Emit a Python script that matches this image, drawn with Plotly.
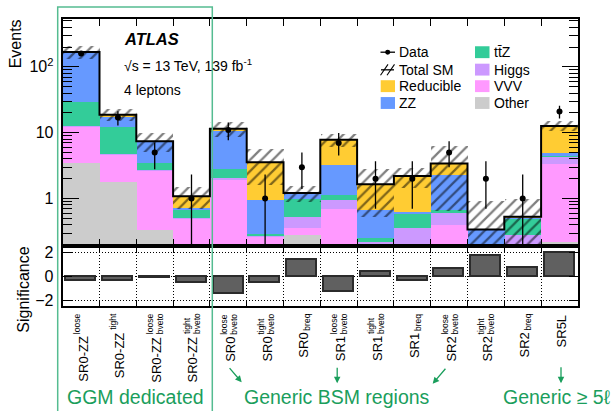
import plotly.graph_objects as go

# ---------------- data ----------------
regions = ["SR0-ZZ", "SR0-ZZ", "SR0-ZZ", "SR0-ZZ", "SR0", "SR0", "SR0",
           "SR1", "SR1", "SR1", "SR2", "SR2", "SR2", "SR5L"]
region_sup = ["loose", "tight", "loose", "tight", "loose", "tight", "",
              "loose", "tight", "", "loose", "tight", "", ""]
region_sub = ["", "", "bveto", "bveto", "bveto", "bveto", "breq",
              "bveto", "bveto", "breq", "bveto", "bveto", "breq", ""]

other = [3.5, 1.8, 0.33, 0.0, 0.0, 0.0, 0.276, 0.0, 0.0, 0.0, 0.0, 0.0, 0.0, 0.22]
vvv = [9.0, 2.87, 2.29, 0.50, 1.95, 0.26, 0.081, 0.70, 0.20, 0.15, 0.40, 0.0, 0.10, 3.08]
higgs = [0.2, 0.08, 0.06, 0.01, 0.10, 0.01, 0.163, 0.25, 0.022, 0.20, 0.205, 0.03, 0.176, 1.1]
ttz = [16.1, 7.55, 0.82, 0.17, 0.73, 0.02, 0.45, 0.18, 0.028, 0.235, 0.055, 0.01, 0.214, 0.05]
zz = [138.2, 5.3, 3.9, 0.03, 7.82, 0.66, 0.23, 2.06, 0.41, 0.035, 1.6, 0.30, 0.03, 0.5]
reducible = [0.5, 1.2, 0.05, 0.37, 0.9, 2.62, 0.01, 4.66, 0.99, 1.58, 1.16, 0.0, 0.01, 7.75]
sm_unc = [38, 3.9, 2.4, 0.39, 2.8, 1.98, 0.32, 1.8, 1.12, 0.74, 2.78, 0.58, 0.45, 2.1]

data = [160, 17, 5, 1, 11, 1, 3, 7, 2, 2, 5, 2, 1, 21]
data_err_up = [13, 4.1, 2.1, 1.33, 3.3, 1.33, 2.0, 2.9, 1.7, 1.7, 2.4, 1.7, 1.33, 4.6]
data_err_dn = [13, 4.1, 2.2, 0.999, 3.3, 0.999, 1.6, 2.5, 1.3, 1.3, 2.0, 1.3, 0.999, 4.6]

significance = [-0.36, -0.36, -0.08, -0.5, -1.47, -0.5, 1.47, -1.3, 0.42, -0.33, 0.64, 1.8, 0.75, 2.0]

main_ticks = [1, 10, 100]
main_ticktext = ["1", "10", "10<sup>2</sup>"]
sig_ticks = [-2, 0, 2]
sig_ticktext = ["\u22122", "0", "2"]

# ---------------- styling ----------------
W, H = 614, 411
FONT = "Liberation Sans, Arial, sans-serif"
GREEN_TXT = "#1a9e5c"
GREEN_BOX = "rgb(85,188,145)"
colors = {
    "Other": "#cccccc",
    "VVV": "#ff99ff",
    "Higgs": "#cc99ff",
    "ttZ": "#33cc99",
    "ZZ": "#6699ff",
    "Reducible": "#ffcc33",
}


def px_x(x):
    return x / W


def px_y(y):
    return 1 - y / H


n = len(regions)
xc = list(range(n))
edges = [i - 0.5 for i in range(n + 1)]
total = [sum(v) for v in zip(other, vvv, higgs, ttz, zz, reducible)]

fig = go.Figure()

# stacked backgrounds (bottom to top)
for name, vals in [("Other", other), ("VVV", vvv), ("Higgs", higgs),
                   ("ttZ", ttz), ("ZZ", zz), ("Reducible", reducible)]:
    fig.add_trace(go.Bar(x=xc, y=vals, name=name, marker_color=colors[name],
                         marker_line_width=0, showlegend=False,
                         xaxis="x", yaxis="y"))

# uncertainty band on the total SM prediction
band_base = [max(t - e, 1e-3) for t, e in zip(total, sm_unc)]
band_len = [t + e - b for t, e, b in zip(total, sm_unc, band_base)]
fig.add_trace(go.Bar(
    x=xc, y=band_len, base=band_base, width=1.0, showlegend=False,
    marker=dict(color="rgba(0,0,0,0)", line_width=0,
                pattern=dict(shape="/", fgcolor="black", bgcolor="rgba(0,0,0,0)",
                             size=8, solidity=0.28)),
    xaxis="x", yaxis="y"))

# total SM step line
fig.add_trace(go.Scatter(x=edges, y=total + [total[-1]], mode="lines",
                         line=dict(color="black", width=2, shape="hv"),
                         showlegend=False, xaxis="x", yaxis="y"))

# data points
fig.add_trace(go.Scatter(
    x=xc, y=data, mode="markers", showlegend=False,
    marker=dict(color="black", size=6),
    error_y=dict(type="data", symmetric=False, array=data_err_up,
                 arrayminus=data_err_dn, thickness=1.3, width=0, color="black"),
    xaxis="x", yaxis="y"))

# significance panel
fig.add_trace(go.Bar(x=xc, y=significance, width=0.82, showlegend=False,
                     marker=dict(color="#606060", line=dict(color="#2b2b2b", width=1.5)),
                     xaxis="x2", yaxis="y2"))

x_dom = [px_x(62.7), px_x(577.9)]
main_dom = [px_y(247), px_y(18.3)]
sig_dom = [px_y(308.3), px_y(247)]

minor_vals = [v * m for m in (0.1, 1, 10, 100) for v in range(2, 10)]
minor_vals = [v for v in minor_vals if 0.19 < v < 530]

axis_common = dict(showline=True, linecolor="black", linewidth=2, mirror="allticks",
                   ticks="inside", tickcolor="black", tickwidth=1.2)

fig.update_layout(
    width=W, height=H, margin=dict(l=0, r=0, t=0, b=0),
    paper_bgcolor="white", plot_bgcolor="white",
    barmode="stack", bargap=0,
    font=dict(family=FONT, color="black"),
    xaxis=dict(domain=x_dom, anchor="y", range=[-0.5, n - 0.5],
               tickmode="array", tickvals=edges, ticklen=7,
               showticklabels=False, showgrid=False, zeroline=False, **axis_common),
    yaxis=dict(domain=main_dom, anchor="x", type="log", range=[-0.714, 2.725],
               tickmode="array", tickvals=main_ticks, ticktext=main_ticktext,
               ticklen=16, tickfont=dict(size=16), ticklabelstandoff=4,
               minor=dict(tickmode="array", tickvals=minor_vals, ticks="inside",
                          ticklen=9, tickcolor="black", showgrid=False),
               showgrid=False, zeroline=False, **axis_common),
    xaxis2=dict(domain=x_dom, anchor="y2", range=[-0.5, n - 0.5], matches="x",
                tickmode="array", tickvals=edges, ticklen=6,
                showticklabels=False, showgrid=True, gridcolor="black",
                griddash="1px,2px", gridwidth=1, zeroline=False, **axis_common),
    yaxis2=dict(domain=sig_dom, anchor="x2", range=[-2.5, 2.61],
                tickmode="array", tickvals=sig_ticks, ticktext=sig_ticktext,
                ticklen=9, tickfont=dict(size=16), ticklabelstandoff=4,
                showgrid=True, gridcolor="black", griddash="1px,2px", gridwidth=1,
                zeroline=False, **axis_common),
)

annotations = []
shapes = []

# axis titles
annotations.append(dict(text="Events", x=px_x(15), y=px_y(18), xref="paper", yref="paper",
                        textangle=-90, xanchor="center", yanchor="top", showarrow=False,
                        font=dict(size=16), borderpad=0))
annotations.append(dict(text="Significance", x=px_x(23.5), y=px_y(292), xref="paper",
                        yref="paper", textangle=-90, xanchor="center", yanchor="middle",
                        showarrow=False, font=dict(size=16), borderpad=0))

# experiment labels
annotations.append(dict(text="<b><i>ATLAS</i></b>", x=px_x(122), y=px_y(38.5), xref="paper",
                        yref="paper", xanchor="left", yanchor="middle", showarrow=False,
                        font=dict(size=16.5)))
annotations.append(dict(text="\u221as = 13 TeV, 139 fb<sup>-1</sup>", x=px_x(122), y=px_y(64.5),
                        xref="paper", yref="paper", xanchor="left", yanchor="middle",
                        showarrow=False, font=dict(size=14)))
annotations.append(dict(text="4 leptons", x=px_x(122), y=px_y(90), xref="paper", yref="paper",
                        xanchor="left", yanchor="middle", showarrow=False, font=dict(size=14)))

# legend
leg_rows = [51.7, 69.3, 86.0, 103.0]
leg_col1 = [("Data", None), ("Total SM", None), ("Reducible", colors["Reducible"]),
            ("ZZ", colors["ZZ"])]
leg_col2 = [("t\u0074\u0304Z", colors["ttZ"]), ("Higgs", colors["Higgs"]),
            ("VVV", colors["VVV"]), ("Other", colors["Other"])]
for (label, col), yy in zip(leg_col1, leg_rows):
    annotations.append(dict(text=label, x=px_x(397), y=px_y(yy), xref="paper", yref="paper",
                            xanchor="left", yanchor="middle", showarrow=False,
                            font=dict(size=14)))
    if col:
        shapes.append(dict(type="rect", xref="paper", yref="paper", x0=px_x(380.7),
                           x1=px_x(395), y0=px_y(yy + 6), y1=px_y(yy - 6),
                           fillcolor=col, line_width=0))
for (label, col), yy in zip(leg_col2, leg_rows):
    annotations.append(dict(text=label, x=px_x(491.5), y=px_y(yy), xref="paper", yref="paper",
                            xanchor="left", yanchor="middle", showarrow=False,
                            font=dict(size=14)))
    shapes.append(dict(type="rect", xref="paper", yref="paper", x0=px_x(475),
                       x1=px_x(489.5), y0=px_y(yy + 6), y1=px_y(yy - 6),
                       fillcolor=col, line_width=0))
# data marker symbol
shapes.append(dict(type="line", xref="paper", yref="paper", x0=px_x(380.5), x1=px_x(395),
                   y0=px_y(51.7), y1=px_y(51.7), line=dict(color="black", width=1.3)))
shapes.append(dict(type="circle", xref="paper", yref="paper", x0=px_x(385.2), x1=px_x(390.2),
                   y0=px_y(54.2), y1=px_y(49.2), fillcolor="black", line_width=0))
# total SM symbol: line with hatching
shapes.append(dict(type="line", xref="paper", yref="paper", x0=px_x(381), x1=px_x(394),
                   y0=px_y(69.5), y1=px_y(69.5), line=dict(color="black", width=1.3)))
for x0 in (380.5, 387.0):
    shapes.append(dict(type="line", xref="paper", yref="paper", x0=px_x(x0), x1=px_x(x0 + 7.5),
                       y0=px_y(75), y1=px_y(64), line=dict(color="black", width=1.1)))

# region labels with stacked super/subscripts
char_w = {"l": .222, "o": .556, "s": .5, "e": .556, "t": .278, "i": .222, "g": .556,
          "h": .556, "b": .556, "v": .5, "r": .333, "q": .556}
SCRIPT_SIZE = 8.5
LABEL_TOP = 316


def text_w(s, size):
    return sum(char_w.get(c, .556) for c in s) * size


for i in range(n):
    w = max(text_w(region_sup[i], SCRIPT_SIZE), text_w(region_sub[i], SCRIPT_SIZE))
    y_end = LABEL_TOP + (w + 1 if w > 0 else 0)
    annotations.append(dict(text=regions[i], x=i, y=px_y(y_end), xref="x2", yref="paper",
                            textangle=-90, xanchor="center", yanchor="top", showarrow=False,
                            xshift=1.5, font=dict(size=13), borderpad=0))
    if region_sup[i]:
        annotations.append(dict(text=region_sup[i], x=i, y=px_y(y_end), xref="x2",
                                yref="paper", textangle=-90, xanchor="center",
                                yanchor="bottom", showarrow=False, xshift=-4.5,
                                font=dict(size=SCRIPT_SIZE), borderpad=0))
    if region_sub[i]:
        annotations.append(dict(text=region_sub[i], x=i, y=px_y(y_end), xref="x2",
                                yref="paper", textangle=-90, xanchor="center",
                                yanchor="bottom", showarrow=False, xshift=5.5,
                                font=dict(size=SCRIPT_SIZE), borderpad=0))

# region group captions
for txt, xx in [("GGM dedicated", 135.8), ("Generic BSM regions", 336.5),
                ("Generic \u2265 5\u2113", 556.5)]:
    annotations.append(dict(text=txt, x=px_x(xx), y=px_y(399.5), xref="paper", yref="paper",
                            xanchor="center", yanchor="middle", showarrow=False,
                            font=dict(size=19.5, color=GREEN_TXT)))
for (hx, hy, tx, ty) in [(241.7, 385, 228.3, 369.3), (337.2, 386, 337.2, 369),
                         (432.7, 386.5, 446.7, 370), (561, 386, 561, 368.5)]:
    annotations.append(dict(text="", x=px_x(hx), y=px_y(hy), xref="paper", yref="paper",
                            ax=tx - hx, ay=ty - hy, axref="pixel", ayref="pixel",
                            showarrow=True, arrowhead=2, arrowsize=1, arrowwidth=1.3,
                            arrowcolor=GREEN_TXT))

# GGM box
shapes.append(dict(type="rect", xref="paper", yref="paper", x0=px_x(57.7), x1=px_x(212.3),
                   y0=px_y(418), y1=px_y(6), line=dict(color=GREEN_BOX, width=1.5),
                   fillcolor="rgba(0,0,0,0)", layer="above"))

fig.update_layout(annotations=annotations, shapes=shapes)
fig.write_html("out.html")
